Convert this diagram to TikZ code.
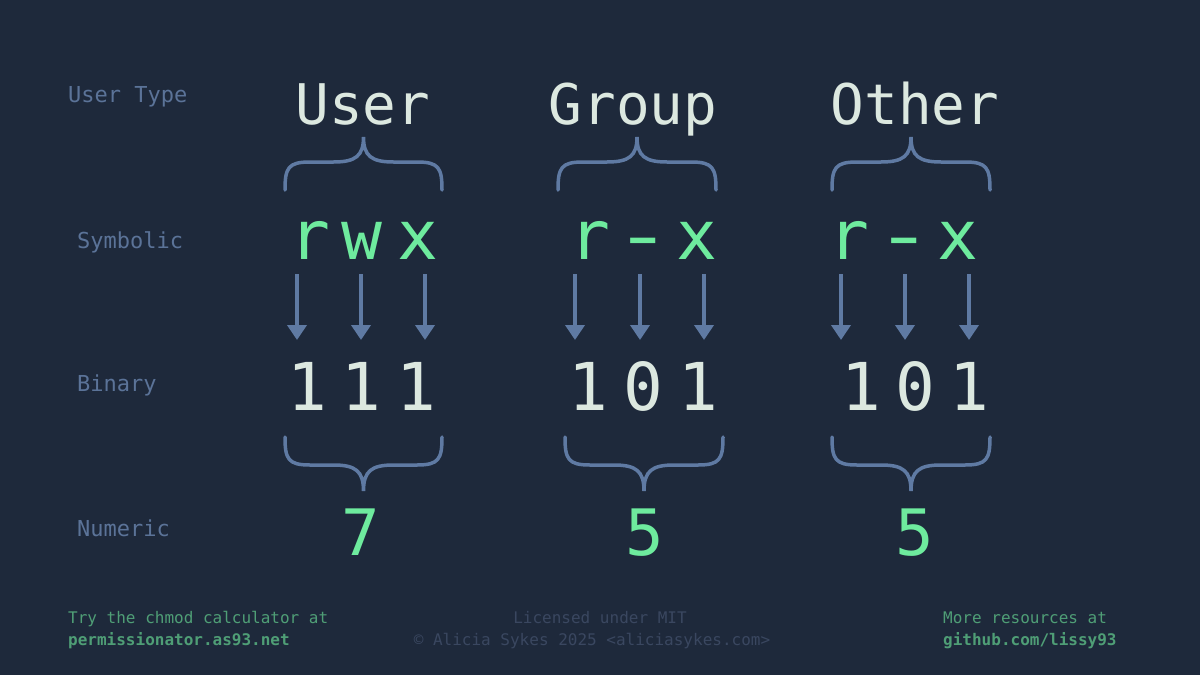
\documentclass[tikz,border=0pt]{standalone}
\usepackage{fontspec}
\usepackage{graphicx}
\setmonofont{DejaVu Sans Mono}
\usetikzlibrary{arrows.meta}
\definecolor{bg}{HTML}{1E293B}
\definecolor{lbl}{HTML}{5B7398}
\definecolor{brc}{HTML}{5F7AA3}
\definecolor{wht}{HTML}{DCE8E0}
\definecolor{grn}{HTML}{6EEB9E}
\definecolor{fgrn}{HTML}{4F9E76}
\definecolor{fgry}{HTML}{3A4760}
\tikzset{
  lab/.style={text=lbl, font=\ttfamily\fontsize{22}{24}\selectfont, anchor=base west},
  head/.style={text=wht, font=\ttfamily\fontsize{56}{60}\selectfont, anchor=base},
  sym/.style={text=grn, font=\ttfamily\fontsize{68}{70}\selectfont, anchor=base},
  bin/.style={text=wht, font=\ttfamily\fontsize{66}{70}\selectfont, anchor=base},
  num/.style={text=grn, font=\ttfamily\fontsize{64}{70}\selectfont, anchor=base},
  foot/.style={font=\ttfamily\fontsize{16}{18}\selectfont},
  brline/.style={draw=brc, line width=3.5pt, line cap=round},
  arr/.style={draw=brc, line width=4.5pt, -{Triangle[width=19pt,length=15pt]}},
}
\begin{document}
\begin{tikzpicture}[x=1pt,y=-1pt, every node/.style={inner sep=0pt}]
\fill[bg] (0,0) rectangle (1200,675);
\useasboundingbox (0,0) rectangle (1200,675);
% left labels
\node[lab] (lUT) at (68,102) {User Type};
\node[lab] (lSy) at (77,248) {Symbolic};
\node[lab] (lBi) at (77,391) {Binary};
\node[lab] (lNu) at (77,536) {Numeric};
% headers
\node[head] (hU) at (363,124) {User};
\node[head] (hG) at (633,124) {Group};
\node[head] (hO) at (915,124) {Other};
% top braces
\foreach \c/\w in {363.5/78.5, 637/79, 911/79}{
  \draw[brline] (\c-\w,190) .. controls (\c-\w,168) and (\c-\w+3,162) .. (\c-\w+25,162)
    -- (\c-30,162) .. controls (\c-8,162) and (\c,156) .. (\c,137)
    .. controls (\c,156) and (\c+8,162) .. (\c+30,162)
    -- (\c+\w-25,162) .. controls (\c+\w-3,162) and (\c+\w,168) .. (\c+\w,190);
}
% symbolic letters
\node[sym] (sU1) at (310,259) {r};
\node[sym] (sU2) at (362,259) {w};
\node[sym] (sU3) at (418,259) {x};
\node[sym] (sG1) at (590,259) {r};
\node[sym] (sG2) at (643,259) {\scalebox{1.45}[1]{-}};
\node[sym] (sG3) at (697,259) {x};
\node[sym] (sO1) at (849,259) {r};
\node[sym] (sO2) at (904,259) {\scalebox{1.45}[1]{-}};
\node[sym] (sO3) at (958,259) {x};
% arrows
\foreach \n/\x in {U1/297,U2/361,U3/425,G1/575,G2/640,G3/704,O1/841,O2/905,O3/969}{
  \coordinate (as\n) at (\x,274);
  \coordinate (ae\n) at (\x,340);
  \draw[arr] (as\n) -- (ae\n);
}
% binary
\node[bin] (bU1) at (307,410) {1};
\node[bin] (bU2) at (361,410) {1};
\node[bin] (bU3) at (416,410) {1};
\node[bin] (bG1) at (588,410) {1};
\node[bin] (bG2) at (643,410) {0};
\node[bin] (bG3) at (698,410) {1};
\node[bin] (bO1) at (861,410) {1};
\node[bin] (bO2) at (915,410) {0};
\node[bin] (bO3) at (969,410) {1};
% bottom braces
\foreach \c/\w in {363.5/78.5, 644/79, 911/79}{
  \draw[brline] (\c-\w,437) .. controls (\c-\w,459) and (\c-\w+3,465) .. (\c-\w+25,465)
    -- (\c-30,465) .. controls (\c-8,465) and (\c,471) .. (\c,491)
    .. controls (\c,471) and (\c+8,465) .. (\c+30,465)
    -- (\c+\w-25,465) .. controls (\c+\w-3,465) and (\c+\w,459) .. (\c+\w,437);
}
% numeric
\node[num] (nU) at (361,555) {7};
\node[num] (nG) at (645,555) {5};
\node[num] (nO) at (915,555) {5};
% footer
\node[foot, text=fgrn, anchor=base west] (f1) at (68,623) {Try the chmod calculator at};
\node[foot, text=fgrn, anchor=base west, font=\ttfamily\bfseries\fontsize{16}{18}\selectfont] (f2) at (68,645) {permissionator.as93.net};
\node[foot, text=fgry, anchor=base] (f3) at (600,623) {Licensed under MIT};
\node[foot, text=fgry, anchor=base] (f4) at (592,645) {© Alicia Sykes 2025 <aliciasykes.com>};
\node[foot, text=fgrn, anchor=base west] (f5) at (943,623) {More resources at};
\node[foot, text=fgrn, anchor=base west, font=\ttfamily\bfseries\fontsize{16}{18}\selectfont] (f6) at (943,645) {github.com/lissy93};
\end{tikzpicture}
\end{document}
